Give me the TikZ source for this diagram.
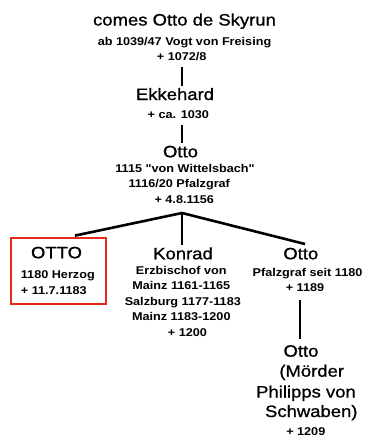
\documentclass[tikz,border=0pt]{standalone}
\usepackage{fontspec}
\newfontfamily\namefont{Liberation Sans}[FakeStretch=1.12,FakeBold=0.9]
\newfontfamily\detfont{Liberation Sans}[FakeStretch=1.12]
\definecolor{boxred}{RGB}{232,42,28}
\tikzset{
  big/.style={anchor=base, inner sep=0pt, font=\namefont\fontsize{16.5}{19}\selectfont},
  small/.style={anchor=base, inner sep=0pt, font=\detfont\fontsize{11.3}{14}\selectfont\bfseries},
  conn/.style={line width=2.6pt, black},
  redbox/.style={draw=boxred, line width=2.8pt, minimum width=95pt, minimum height=66pt, inner sep=0pt}
}
\begin{document}
\begin{tikzpicture}[x=1pt,y=-1pt]
\useasboundingbox (0,0) rectangle (366,437);
% top line
\node[big]   (t1) at (184.5,25.5) {comes Otto de Skyrun};
\node[small] (t2) at (184.5,45.7) {ab 1039/47 Vogt von Freising};
\node[small] (t3) at (181.7,60.3) {+ 1072/8};
\node[big]   (e1) at (175,100) {Ekkehard};
\node[small] (e2) at (178.3,118.3) {+ ca. 1030};
\node[big]   (o1) at (180.5,157.3) {Otto};
\node[small] (o2) at (185,172.7) {1115 "von Wittelsbach"};
\node[small] (o3) at (179.3,187.7) {1116/20 Pfalzgraf};
\node[small] (o4) at (184.3,203.3) {+ 4.8.1156};
% boxed Otto
\node[redbox] (box) at (58.5,271) {};
\node[big]   (b1) at (56.5,258.3) {OTTO};
\node[small,anchor=base west] (b2) at (20.7,278.3) {1180 Herzog};
\node[small,anchor=base west] (b3) at (20.7,294) {+ 11.7.1183};
% Konrad
\node[big]   (k1) at (183,259.3) {Konrad};
\node[small] (k2) at (181.3,274) {Erzbischof von};
\node[small] (k3) at (181.3,289.3) {Mainz 1161-1165};
\node[small] (k4) at (182.8,305) {Salzburg 1177-1183};
\node[small] (k5) at (181.3,320.7) {Mainz 1183-1200};
\node[small] (k6) at (187.5,336) {+ 1200};
% right Otto
\node[big]   (r1) at (300.8,259.3) {Otto};
\node[small] (r2) at (307.5,276) {Pfalzgraf seit 1180};
\node[small] (r3) at (305,291.7) {+ 1189};
% lower Otto
\node[big]   (s1) at (301,356.7) {Otto};
\node[big]   (s2) at (311.7,376.7) {(Mörder};
\node[big]   (s3) at (306,397.5) {Philipps von};
\node[big]   (s4) at (311.3,417) {Schwaben)};
\node[small] (s5) at (305.8,435.2) {+ 1209};
% connectors
\draw[conn] ([xshift=0.3pt,yshift=-6.7pt]t3.base) -- ([xshift=7pt,yshift=14pt]e1.base);
\draw[conn] ([xshift=3.7pt,yshift=-6.7pt]e2.base) -- ([xshift=1.5pt,yshift=14.3pt]o1.base);
\coordinate (apex) at ([xshift=-2.3pt,yshift=-9.7pt]o4.base);
\draw[conn] ([xshift=16.5pt,yshift=1pt]box.north) -- (apex) -- ([xshift=4.2pt,yshift=15.3pt]r1.base);
\draw[conn] (apex) -- ([xshift=-1pt,yshift=14.3pt]k1.base);
\draw[conn] ([xshift=-5pt,yshift=-8.3pt]r3.base) -- ([xshift=-1pt,yshift=17.7pt]s1.base);
\end{tikzpicture}
\end{document}
